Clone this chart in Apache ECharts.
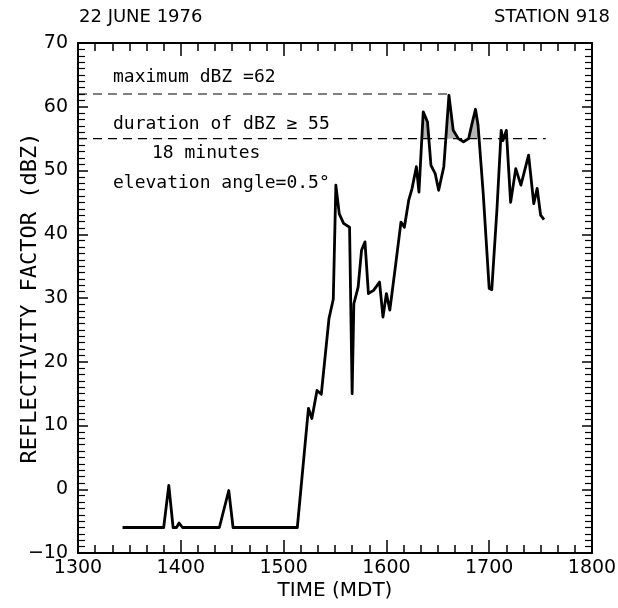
<!DOCTYPE html>
<html><head><meta charset="utf-8">
<script src="https://cdn.jsdelivr.net/npm/echarts@6/dist/echarts.min.js"></script>
<style>html,body{margin:0;padding:0;background:#fff}#c{width:618px;height:608px}</style>
</head><body><div id="c"></div>
<script>
// time in minutes after midnight (MDT)
const timeMinutes = [806, 830, 833, 835.5, 837.5, 839, 841, 862.5, 868, 870.5, 908,
  914.5, 916.5, 919.5, 922, 926.5, 929, 930.5, 932.5, 935, 938.5, 940, 941, 943.5, 945.5,
  947.5, 949.5, 952.5, 956, 958, 960, 962, 965, 968.5, 970.5, 973, 975, 977.5, 979,
  981.5, 984, 986, 988.5, 990.5, 993.5, 996.5, 999, 1002, 1005, 1008, 1010, 1012, 1013.5,
  1016.5, 1020, 1021.5, 1024.5, 1027, 1028, 1030, 1032.5, 1035.5, 1038.5, 1043, 1046,
  1048, 1050, 1052];
const reflectivity = [-6, -6, 0.6, -6, -6, -5.3, -6, -6, -0.2, -6, -6,
  12.7, 11.1, 15.5, 14.9, 26.8, 29.8, 47.7, 43.2, 41.7, 41.1, 15.0, 29.1, 31.7, 37.5,
  38.8, 30.7, 31.2, 32.5, 27.0, 30.7, 28.1, 34.4, 41.9, 41.1, 45.3, 47.2, 50.6, 46.6,
  59.2, 57.6, 50.8, 49.5, 46.9, 50.6, 61.8, 56.3, 55.0, 54.5, 55.0, 57.4, 59.6, 57.1,
  46.4, 31.5, 31.3, 43.8, 56.3, 54.7, 56.3, 45.0, 50.3, 47.7, 52.4, 44.8,
  47.2, 43.0, 42.3];
const maxLineTimes = [780, 998];
const maxLineValues = [62, 62];
const durLineTimes = [780, 1053];
const durLineValues = [55, 55];
const threshold = 55;
const xTickLabels = ['1300', '1400', '1500', '1600', '1700', '1800'];
const yTickLabels = ['\u221210', '0', '10', '20', '30', '40', '50', '60', '70'];

const FONT = 'DejaVu Sans';
const MONO = 'DejaVu Sans Mono';
const chart = echarts.init(document.getElementById('c'), null, {renderer: 'canvas'});
const mainData = timeMinutes.map((t, i) => [t, reflectivity[i]]);
const xCommon = {
  type: 'value', min: 780, max: 1080, interval: 60,
  axisLine: {show: true, onZero: false, lineStyle: {color: '#000', width: 2}},
  splitLine: {show: false},
  minorTick: {show: true, splitNumber: 6, length: 8, lineStyle: {color: '#000', width: 1.5}},
  axisTick: {show: true, inside: true, length: 13, lineStyle: {color: '#000', width: 1.5}}
};
const yCommon = {
  type: 'value', min: -10, max: 70, interval: 10,
  axisLine: {show: true, onZero: false, lineStyle: {color: '#000', width: 2}},
  splitLine: {show: false},
  minorTick: {show: true, splitNumber: 10, length: 7, lineStyle: {color: '#000', width: 1.2}},
  axisTick: {show: true, inside: true, length: 10, lineStyle: {color: '#000', width: 1.5}}
};
const txt = (left, top, text, size, fam) => ({type: 'text', left: left, top: top,
  style: {text: text, fill: '#000', font: (size || 18) + 'px "' + (fam || MONO) + '"'}});

chart.setOption({
  backgroundColor: '#fff',
  animation: false,
  grid: {left: 78, right: 26, top: 43, bottom: 55, outerBoundsMode: 'none', containLabel: false},
  xAxis: [
    Object.assign({}, xCommon, {
      position: 'bottom',
      name: 'TIME (MDT)', nameLocation: 'middle', nameGap: 28, nameMoveOverlap: false,
      nameTextStyle: {fontFamily: FONT, fontSize: 20, color: '#000'},
      axisLabel: {show: true, margin: 6, fontFamily: FONT, fontSize: 19, color: '#000',
        formatter: v => xTickLabels[Math.round((v - 780) / 60)]}
    }),
    Object.assign({}, xCommon, {position: 'top', axisLabel: {show: false}})
  ],
  yAxis: [
    Object.assign({}, yCommon, {
      position: 'left',
      name: 'REFLECTIVITY FACTOR (dBZ)', nameLocation: 'middle', nameGap: 37, nameMoveOverlap: false,
      nameTextStyle: {fontFamily: MONO, fontSize: 22, color: '#000'},
      axisLabel: {show: true, margin: 10, fontFamily: FONT, fontSize: 19, color: '#000',
        formatter: v => yTickLabels[Math.round((v + 10) / 10)]}
    }),
    Object.assign({}, yCommon, {position: 'right', axisLabel: {show: false}})
  ],
  visualMap: {
    show: false, type: 'piecewise', seriesIndex: 1, dimension: 1,
    pieces: [{gte: threshold, lte: 70, color: '#a8a8a8'}, {gte: -10, lt: threshold, color: 'rgba(255,255,255,0)'}]
  },
  series: [
    {type: 'line', data: mainData, symbol: 'none', z: 5, silent: true,
     lineStyle: {color: '#000', width: 2.8, join: 'round'}},
    {type: 'line', data: mainData, symbol: 'none', z: 3, silent: true,
     lineStyle: {width: 0, opacity: 0},
     areaStyle: {origin: threshold, opacity: 0.85}},
    {type: 'line', data: maxLineTimes.map((t, i) => [t, maxLineValues[i]]), symbol: 'none', z: 4, silent: true,
     lineStyle: {color: '#000', width: 1.2, type: [9, 6]}},
    {type: 'line', data: durLineTimes.map((t, i) => [t, durLineValues[i]]), symbol: 'none', z: 4, silent: true,
     lineStyle: {color: '#000', width: 1.2, type: [9, 6]}}
  ],
  graphic: [
    txt(79, 8, '22 JUNE 1976', 18, FONT),
    {type: 'text', right: 8, top: 8, style: {text: 'STATION 918', fill: '#000', font: '18px "' + FONT + '"'}},
    txt(113, 68, 'maximum dBZ =62'),
    txt(113, 115, 'duration of dBZ \u2265 55'),
    txt(152, 144, '18 minutes'),
    txt(113, 174, 'elevation angle=0.5\u00b0')
  ]
});
</script></body></html>
